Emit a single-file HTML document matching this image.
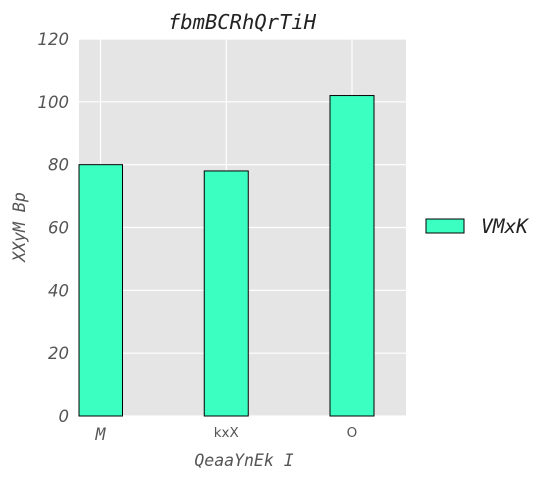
<!DOCTYPE html>
<html><head><meta charset="utf-8"><style>
body{margin:0;background:#fff;}
svg text{fill:#555;}
</style></head><body>
<svg id="chart" width="560" height="480" xmlns="http://www.w3.org/2000/svg">
<rect x="0" y="0" width="560" height="480" fill="#fff"/>
<rect x="79" y="39" width="327" height="377" fill="#e5e5e5"/>
<g id="grid"></g>
<g id="bars"></g>
<g id="ticks"></g>
<text x="242" y="29" text-anchor="middle" font-family="DejaVu Sans Mono, monospace" font-style="italic" font-size="20.5" style="fill:#222">fbmBCRhQrTiH</text>
<text x="244" y="466" text-anchor="middle" font-family="DejaVu Sans Mono, monospace" font-style="italic" font-size="16.5">QeaaYnEk I</text>
<text transform="translate(25,227) rotate(-90)" text-anchor="middle" font-family="DejaVu Sans Mono, monospace" font-style="italic" font-size="16.5">XXyM Bp</text>
<g>
<rect x="426" y="219" width="38" height="14" fill="#3bffc0" stroke="#000" stroke-width="1"/>
<text x="481" y="233" font-family="DejaVu Sans Mono, monospace" font-style="italic" font-size="19.5" style="fill:#222">VMxK</text>
</g>
</svg>
<script>
const categories = ["M", "kxX", "O"];
const values = [80, 78, 102];
const yTicks = [0, 20, 40, 60, 80, 100, 120];
const NS = "http://www.w3.org/2000/svg";
const y = v => 416 - v * (377 / 120);
const x = i => 100.5 + i * 125.75;
const bw = 44;
function mk(tag, attrs, parent) {
  const el = document.createElementNS(NS, tag);
  for (const k in attrs) el.setAttribute(k, attrs[k]);
  parent.appendChild(el);
  return el;
}
const grid = document.getElementById('grid');
const bars = document.getElementById('bars');
const ticks = document.getElementById('ticks');
yTicks.forEach(t => {
  const l = mk('line', {x1: 79, x2: 406, y1: y(t), y2: y(t), stroke: '#fff', 'stroke-width': 1.2}, grid);
  
  
  const tx = mk('text', {x: 69, y: y(t) + 6, 'text-anchor': 'end', 'font-family': 'DejaVu Sans, sans-serif', 'font-style': 'italic', 'font-size': 16.5}, ticks);
  tx.textContent = t;
  
  
});
categories.forEach((c, i) => {
  const l = mk('line', {x1: x(i), x2: x(i), y1: 39, y2: 416, stroke: '#fff', 'stroke-width': 1.2}, grid);
  
  
  const left = Math.max(79, x(i) - bw / 2);
  const r = mk('rect', {x: left, y: y(values[i]), width: x(i) + bw / 2 - left, height: y(0) - y(values[i]), fill: '#3bffc0', stroke: '#000', 'stroke-width': 1}, bars);
  
  
  const tx = mk('text', {x: x(i), y: 437, 'text-anchor': 'middle'}, ticks);
  if (i === 0) {
    tx.setAttribute('font-family', 'DejaVu Sans Mono, monospace');
    tx.setAttribute('font-style', 'italic');
    tx.setAttribute('font-size', '16.5');
    tx.setAttribute('y', 440);
  } else {
    tx.setAttribute('font-family', 'DejaVu Sans, sans-serif');
    tx.setAttribute('font-size', '13.5');
  }
  tx.textContent = c;
  
  
});
</script>
</body></html>
